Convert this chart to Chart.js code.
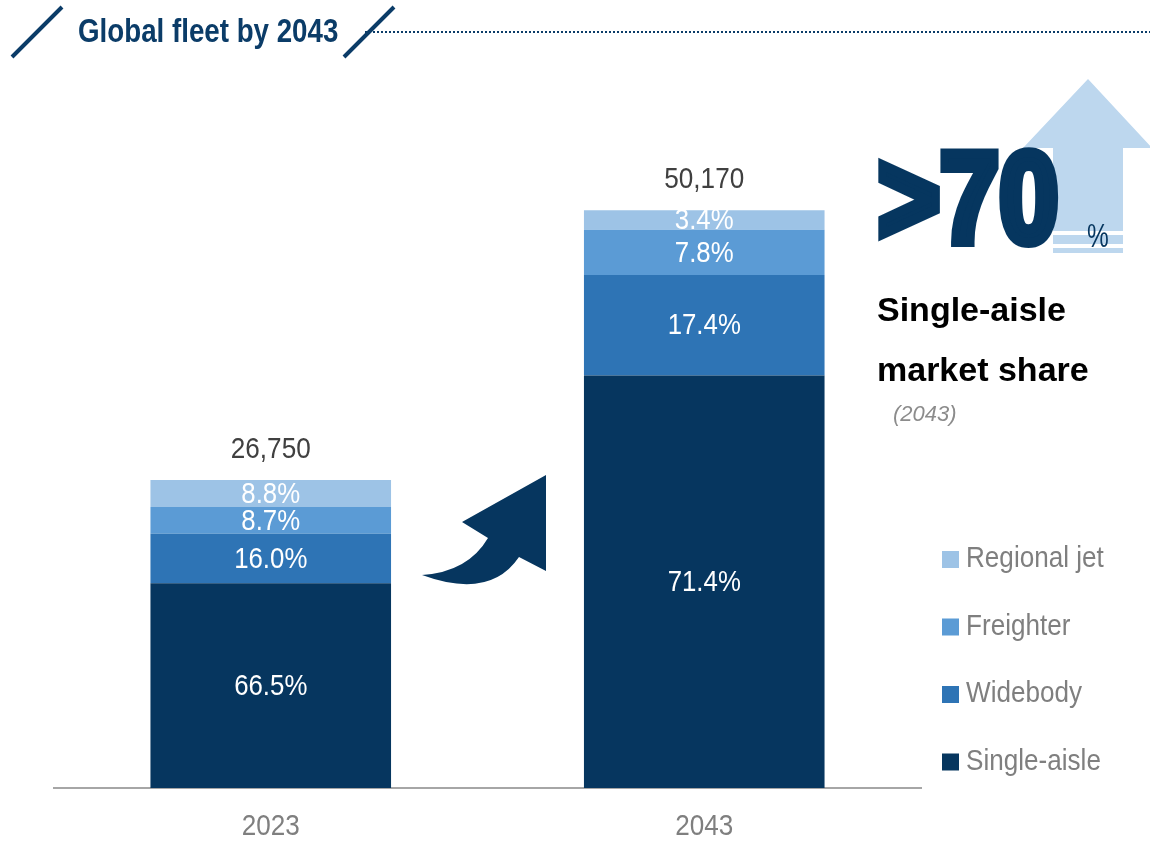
<!DOCTYPE html>
<html>
<head>
<meta charset="utf-8">
<title>Global fleet by 2043</title>
<script src="https://cdn.jsdelivr.net/npm/chart.js@4.4.1/dist/chart.umd.min.js"></script>
<style>
  html, body { margin: 0; padding: 0; background: #ffffff; }
  #wrap { position: relative; width: 1150px; height: 842px; }
</style>
</head>
<body>
<div id="wrap"><canvas id="fleetChart" width="1150" height="842"></canvas></div>
<script>
// Fleet data
const years = ['2023', '2043'];
const fleetTotals = [26750, 50170];
const singleAislePct = [66.5, 71.4];
const widebodyPct = [16.0, 17.4];
const freighterPct = [8.7, 7.8];
const regionalPct = [8.8, 3.4];

const NAVY = '#06365f';
const colors = {
    single: '#06365f',
    wide: '#2e74b5',
    freighter: '#5b9bd5',
    regional: '#9dc3e6'
};
const FONT = "'Liberation Sans', Arial, sans-serif";

// Aircraft count for each segment, from the share of the total
function segment(pcts) {
    return pcts.map((p, i) => fleetTotals[i] * p / 100);
}

// Draws text squeezed horizontally (narrow face look)
function narrowText(ctx, str, x, y, font, color, align, sx, baseline) {
    ctx.save();
    ctx.font = font;
    ctx.fillStyle = color;
    ctx.textAlign = align || 'center';
    ctx.textBaseline = baseline || 'middle';
    ctx.translate(x, y);
    ctx.scale(sx || 0.86, 1);
    ctx.fillText(str, 0, 0);
    ctx.restore();
}

// Percent labels, totals, category labels and the side decorations
const decorPlugin = {
    id: 'decor',
    afterDatasetsDraw(chart) {
        const ctx = chart.ctx;
        const xScale = chart.scales.x;

        // segment shares inside bars
        chart.data.datasets.forEach((ds, di) => {
            const meta = chart.getDatasetMeta(di);
            meta.data.forEach((bar, i) => {
                const midY = (bar.y + bar.base) / 2;
                narrowText(ctx, ds.pct[i].toFixed(1) + '%', bar.x, midY + 1,
                    '30px ' + FONT, '#ffffff', 'center', 0.86);
            });
        });

        // totals above bars
        const topMeta = chart.getDatasetMeta(chart.data.datasets.length - 1);
        topMeta.data.forEach((bar, i) => {
            narrowText(ctx, fleetTotals[i].toLocaleString('en-US'), bar.x, bar.y - 30,
                '30px ' + FONT, '#404040', 'center', 0.87);
        });

        // category labels under the axis
        years.forEach((y, i) => {
            narrowText(ctx, y, xScale.getPixelForValue(i), chart.chartArea.bottom + 39,
                '30px ' + FONT, '#7f7f7f', 'center', 0.87);
        });
    },
    afterDraw(chart) {
        const ctx = chart.ctx;
        ctx.save();

        // header: slashes, title, dotted rule
        ctx.strokeStyle = '#0b3c68';
        ctx.lineWidth = 4;
        ctx.lineCap = 'butt';
        ctx.beginPath();
        ctx.moveTo(12, 57); ctx.lineTo(62, 7);
        ctx.moveTo(344, 57); ctx.lineTo(394, 7);
        ctx.stroke();

        ctx.setLineDash([2, 2]);
        ctx.lineWidth = 2;
        ctx.beginPath();
        ctx.moveTo(365, 32); ctx.lineTo(1150, 32);
        ctx.stroke();
        ctx.setLineDash([]);

        narrowText(ctx, 'Global fleet by 2043', 78, 42, 'bold 33px ' + FONT,
            '#0b3c68', 'left', 0.84, 'alphabetic');

        // light blue up arrow behind the big figure
        ctx.fillStyle = '#bdd7ee';
        ctx.beginPath();
        ctx.moveTo(1088, 79);
        ctx.lineTo(1152, 148);
        ctx.lineTo(1123, 148);
        ctx.lineTo(1123, 231);
        ctx.lineTo(1053, 231);
        ctx.lineTo(1053, 148);
        ctx.lineTo(1023, 148);
        ctx.closePath();
        ctx.fill();
        ctx.fillRect(1053, 235, 70, 9);
        ctx.fillRect(1053, 248, 70, 5);

        // >70 figure
        ctx.save();
        ctx.translate(878, 242);
        ctx.scale(0.83, 1);
        ctx.font = 'bold 128px ' + FONT;
        ctx.fillStyle = NAVY;
        ctx.strokeStyle = NAVY;
        ctx.lineWidth = 10;
        ctx.lineJoin = 'miter';
        ctx.textAlign = 'left';
        ctx.textBaseline = 'alphabetic';
        ctx.fillText('>70', 0, 0);
        ctx.strokeText('>70', 0, 0);
        ctx.restore();

        narrowText(ctx, '%', 1087, 247, '34px ' + FONT, NAVY, 'left', 0.72, 'alphabetic');

        // side caption
        ctx.textAlign = 'left';
        ctx.textBaseline = 'alphabetic';
        ctx.font = 'bold 34px ' + FONT;
        ctx.fillStyle = '#000000';
        ctx.fillText('Single-aisle', 877, 321);
        ctx.fillText('market share', 877, 381);
        ctx.font = 'italic 22px ' + FONT;
        ctx.fillStyle = '#8c8c8c';
        ctx.fillText('(2043)', 893, 421);

        // curved growth arrow between the bars
        ctx.fillStyle = NAVY;
        ctx.beginPath();
        ctx.moveTo(546, 475);
        ctx.lineTo(462, 522);
        ctx.lineTo(488, 538);
        ctx.quadraticCurveTo(468, 572, 422, 575);
        ctx.quadraticCurveTo(490, 600, 519, 557);
        ctx.lineTo(546, 571);
        ctx.closePath();
        ctx.fill();

        // legend, top to bottom
        const legendItems = [
            ['Regional jet', colors.regional],
            ['Freighter', colors.freighter],
            ['Widebody', colors.wide],
            ['Single-aisle', colors.single]
        ];
        legendItems.forEach((item, i) => {
            const cy = 559 + i * 67.5;
            ctx.fillStyle = item[1];
            ctx.fillRect(942, cy - 8, 17, 17);
            narrowText(ctx, item[0], 966, cy, '30px ' + FONT, '#7f7f7f', 'left', 0.87);
        });

        ctx.restore();
    }
};

const ctx = document.getElementById('fleetChart').getContext('2d');

window.fleetChart = new Chart(ctx, {
    type: 'bar',
    data: {
        labels: years,
        datasets: [
            { label: 'Single-aisle', data: segment(singleAislePct), pct: singleAislePct, backgroundColor: colors.single },
            { label: 'Widebody', data: segment(widebodyPct), pct: widebodyPct, backgroundColor: colors.wide },
            { label: 'Freighter', data: segment(freighterPct), pct: freighterPct, backgroundColor: colors.freighter },
            { label: 'Regional jet', data: segment(regionalPct), pct: regionalPct, backgroundColor: colors.regional }
        ]
    },
    options: {
        responsive: false,
        animation: false,
        events: [],
        layout: {
            padding: { top: 97, left: 54, right: 229, bottom: 0 }
        },
        datasets: {
            bar: {
                categoryPercentage: 1.0,
                barPercentage: 0.555,
                borderWidth: 0
            }
        },
        plugins: {
            legend: { display: false },
            tooltip: { enabled: false }
        },
        scales: {
            x: {
                stacked: true,
                grid: { display: false },
                border: { display: true, color: '#a6a6a6', width: 2 },
                ticks: { display: false },
                afterFit(scale) { scale.height = 54; }
            },
            y: {
                stacked: true,
                display: false,
                min: 0,
                max: 60000
            }
        }
    },
    plugins: [decorPlugin]
});
</script>
</body>
</html>
